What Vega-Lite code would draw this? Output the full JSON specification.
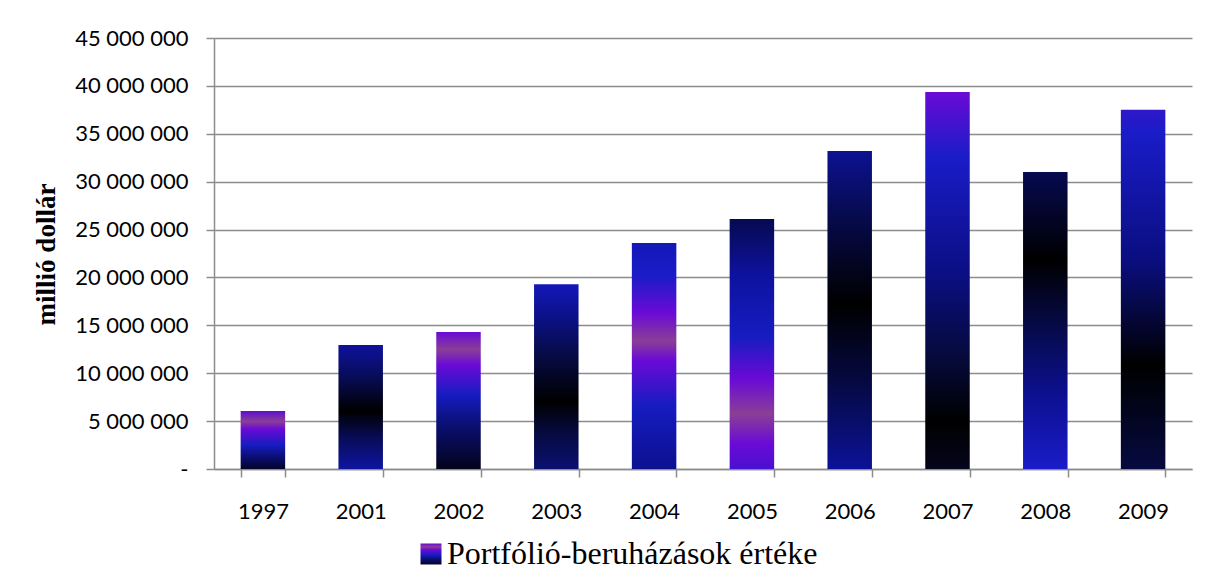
{
  "$schema": "https://vega.github.io/schema/vega-lite/v6.json",
  "width": 978,
  "height": 431,
  "autosize": {"type": "none"},
  "padding": {"left": 214, "top": 38, "right": 14, "bottom": 114},
  "background": "white",
  "config": {
    "view": {"stroke": null},
    "locale": {"number": {"decimal": ",", "thousands": " ", "grouping": [3], "currency": ["", ""]}}
  },
  "data": {"values": [
    {"year": "1997", "value": 6050000},
    {"year": "2001", "value": 12940000},
    {"year": "2002", "value": 14300000},
    {"year": "2003", "value": 19300000},
    {"year": "2004", "value": 23600000},
    {"year": "2005", "value": 26100000},
    {"year": "2006", "value": 33200000},
    {"year": "2007", "value": 39350000},
    {"year": "2008", "value": 31000000},
    {"year": "2009", "value": 37500000}
  ]},
  "encoding": {
    "x": {
      "field": "year", "type": "nominal", "sort": null,
      "scale": {"paddingInner": 0.545, "paddingOuter": 0.2725},
      "axis": {
        "title": null, "labelAngle": 0, "tickBand": "extent",
        "labelFont": "Lato", "labelFontSize": 22, "labelColor": "#000000",
        "labelPadding": 24, "tickSize": 8, "tickColor": "#8c8c8c", "tickWidth": 1.5,
        "domainColor": "#8c8c8c", "domainWidth": 1.5, "grid": false
      }
    },
    "y": {
      "field": "value", "type": "quantitative",
      "scale": {"domain": [0, 45000000], "nice": false},
      "axis": {
        "title": "millió dollár",
        "values": [0, 5000000, 10000000, 15000000, 20000000, 25000000, 30000000, 35000000, 40000000, 45000000],
        "format": ",d",
        "labelExpr": "datum.value == 0 ? '-' : datum.label",
        "labelFont": "Lato", "labelFontSize": 22, "labelColor": "#000000",
        "labelPadding": 18, "tickSize": 8, "tickColor": "#8c8c8c", "tickWidth": 1.5,
        "domainColor": "#8c8c8c", "domainWidth": 1.5,
        "grid": true, "gridColor": "#8c8c8c", "gridWidth": 1.5,
        "titleFont": "Liberation Serif", "titleFontWeight": "bold", "titleFontSize": 27,
        "titleColor": "#000000", "titleX": -160, "titleY": 216, "titleAngle": 270,
        "titleBaseline": "alphabetic", "titleAlign": "center"
      }
    }
  },
  "layer": [
    {
      "mark": {"type": "point", "filled": true, "opacity": 0, "color": {"gradient": "linear", "x1": 0, "y1": 1, "x2": 0, "y2": 0, "stops": [
              {"offset": 0, "color": "#04042a"}, {"offset": 0.25, "color": "#0a0e70"}, {"offset": 0.45, "color": "#161cc0"}, {"offset": 0.7, "color": "#6a0ad6"}, {"offset": 0.84, "color": "#8a3f96"}, {"offset": 1, "color": "#6a0ad6"}]}},
      "encoding": {
        "shape": {
          "datum": "Portfólió-beruházások értéke",
          "scale": {"range": ["square"]},
          "legend": {
            "title": null, "orient": "none", "legendX": 201, "legendY": 500,
            "padding": 0, "symbolType": "square", "symbolSize": 441, "symbolOpacity": 1,
            "symbolStrokeWidth": 0, "labelFont": "Liberation Serif", "labelFontSize": 32,
            "labelColor": "#000000", "labelOffset": 0, "labelLimit": 0
          }
        }
      }
    },
    {"transform": [{"filter": "datum.year == '1997'"}], "mark": {"type": "bar", "color": {"gradient": "linear", "x1": 0, "y1": 1, "x2": 0, "y2": 0, "stops": [
      {"offset": 0, "color": "#04042a"}, {"offset": 0.2, "color": "#0a0e70"}, {"offset": 0.41, "color": "#161cc0"}, {"offset": 0.69, "color": "#6a0ad6"}, {"offset": 0.82, "color": "#8a3f96"}, {"offset": 1, "color": "#5e0ed4"}]}}},
    {"transform": [{"filter": "datum.year == '2001'"}], "mark": {"type": "bar", "color": {"gradient": "linear", "x1": 0, "y1": 1, "x2": 0, "y2": 0, "stops": [
      {"offset": 0, "color": "#0f14a0"}, {"offset": 0.25, "color": "#080c58"}, {"offset": 0.47, "color": "#000000"}, {"offset": 0.75, "color": "#080c5a"}, {"offset": 1, "color": "#0e129c"}]}}},
    {"transform": [{"filter": "datum.year == '2002'"}], "mark": {"type": "bar", "color": {"gradient": "linear", "x1": 0, "y1": 1, "x2": 0, "y2": 0, "stops": [
      {"offset": 0, "color": "#03031c"}, {"offset": 0.3, "color": "#0a0e6a"}, {"offset": 0.54, "color": "#161cc0"}, {"offset": 0.76, "color": "#6a0ad6"}, {"offset": 0.87, "color": "#8a3f96"}, {"offset": 1, "color": "#6a0ad6"}]}}},
    {"transform": [{"filter": "datum.year == '2003'"}], "mark": {"type": "bar", "color": {"gradient": "linear", "x1": 0, "y1": 1, "x2": 0, "y2": 0, "stops": [
      {"offset": 0, "color": "#0b1072"}, {"offset": 0.2, "color": "#060a3e"}, {"offset": 0.365, "color": "#000000"}, {"offset": 0.6, "color": "#060a40"}, {"offset": 0.85, "color": "#0c1290"}, {"offset": 1, "color": "#1418b8"}]}}},
    {"transform": [{"filter": "datum.year == '2004'"}], "mark": {"type": "bar", "color": {"gradient": "linear", "x1": 0, "y1": 1, "x2": 0, "y2": 0, "stops": [
      {"offset": 0, "color": "#0c1090"}, {"offset": 0.28, "color": "#161cc0"}, {"offset": 0.48, "color": "#6a0ad6"}, {"offset": 0.567, "color": "#8a3f96"}, {"offset": 0.69, "color": "#6a0ad6"}, {"offset": 0.855, "color": "#1a1cc8"}, {"offset": 1, "color": "#1418b8"}]}}},
    {"transform": [{"filter": "datum.year == '2005'"}], "mark": {"type": "bar", "color": {"gradient": "linear", "x1": 0, "y1": 1, "x2": 0, "y2": 0, "stops": [
      {"offset": 0, "color": "#4a10d0"}, {"offset": 0.1, "color": "#6a0ad6"}, {"offset": 0.22, "color": "#8a3f96"}, {"offset": 0.36, "color": "#6a0ad6"}, {"offset": 0.53, "color": "#161cc0"}, {"offset": 0.77, "color": "#0e12a0"}, {"offset": 1, "color": "#060a50"}]}}},
    {"transform": [{"filter": "datum.year == '2006'"}], "mark": {"type": "bar", "color": {"gradient": "linear", "x1": 0, "y1": 1, "x2": 0, "y2": 0, "stops": [
      {"offset": 0, "color": "#0c1298"}, {"offset": 0.25, "color": "#060a48"}, {"offset": 0.52, "color": "#000000"}, {"offset": 0.78, "color": "#060a48"}, {"offset": 1, "color": "#0c1292"}]}}},
    {"transform": [{"filter": "datum.year == '2007'"}], "mark": {"type": "bar", "color": {"gradient": "linear", "x1": 0, "y1": 1, "x2": 0, "y2": 0, "stops": [
      {"offset": 0, "color": "#05051c"}, {"offset": 0.127, "color": "#000000"}, {"offset": 0.295, "color": "#060a3a"}, {"offset": 0.51, "color": "#0a0e80"}, {"offset": 0.83, "color": "#1a1cc8"}, {"offset": 1, "color": "#6a0ad6"}]}}},
    {"transform": [{"filter": "datum.year == '2008'"}], "mark": {"type": "bar", "color": {"gradient": "linear", "x1": 0, "y1": 1, "x2": 0, "y2": 0, "stops": [
      {"offset": 0, "color": "#1a1cc8"}, {"offset": 0.25, "color": "#0c1090"}, {"offset": 0.48, "color": "#060a48"}, {"offset": 0.706, "color": "#000000"}, {"offset": 1, "color": "#060a50"}]}}},
    {"transform": [{"filter": "datum.year == '2009'"}], "mark": {"type": "bar", "color": {"gradient": "linear", "x1": 0, "y1": 1, "x2": 0, "y2": 0, "stops": [
      {"offset": 0, "color": "#060a40"}, {"offset": 0.29, "color": "#000000"}, {"offset": 0.585, "color": "#0a0e80"}, {"offset": 0.935, "color": "#1a1cc8"}, {"offset": 1, "color": "#3018c8"}]}}}
  ]
}
